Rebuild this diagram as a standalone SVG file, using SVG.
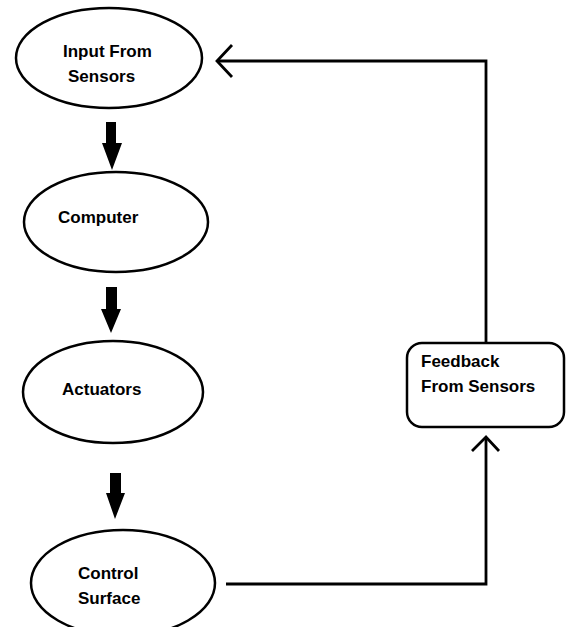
<svg xmlns="http://www.w3.org/2000/svg" width="571" height="627" viewBox="0 0 571 627">
<style>
.shape{fill:#fff;stroke:#000;stroke-width:2.5}
.lbl{font-family:"Liberation Sans",Arial,sans-serif;font-weight:bold;font-size:17px;fill:#000}
.line{fill:none;stroke:#000;stroke-width:2.8;stroke-linejoin:miter}
.block{fill:#000}
</style>
<rect width="571" height="627" fill="#fff"/>
<g id="connectors">
<polygon class="block" points="106,122 116,122 116,143 122,143 112,170 102,143 106,143"/>
<polygon class="block" points="106,287 117,287 117,309 121,309 111,333 101,309 106,309"/>
<polygon class="block" points="110,473 121,473 121,493 125,493 115,519 106,493 110,493"/>
<polyline class="line" points="226,584 486,584 486,437"/>
<polyline class="line" points="472,451 486,437 499,451"/>
<polyline class="line" points="486,343 486,61 217,61"/>
<polyline class="line" points="232,45 217,61 232,77"/>
</g>
<g id="input">
<ellipse class="shape" cx="109" cy="58" rx="93" ry="50"/>
<text class="lbl" x="63" y="57">Input From</text>
<text class="lbl" x="68" y="82">Sensors</text>
</g>
<g id="computer">
<ellipse class="shape" cx="116" cy="222" rx="92" ry="50"/>
<text class="lbl" x="58" y="223">Computer</text>
</g>
<g id="actuators">
<ellipse class="shape" cx="113" cy="392" rx="90" ry="51"/>
<text class="lbl" x="62" y="395">Actuators</text>
</g>
<g id="control">
<ellipse class="shape" cx="123" cy="583" rx="92" ry="53"/>
<text class="lbl" x="78" y="579">Control</text>
<text class="lbl" x="78" y="604">Surface</text>
</g>
<g id="feedback">
<rect class="shape" x="407" y="343" width="157" height="84" rx="15" ry="15"/>
<text class="lbl" x="421" y="367">Feedback</text>
<text class="lbl" x="421" y="392">From Sensors</text>
</g>
</svg>
